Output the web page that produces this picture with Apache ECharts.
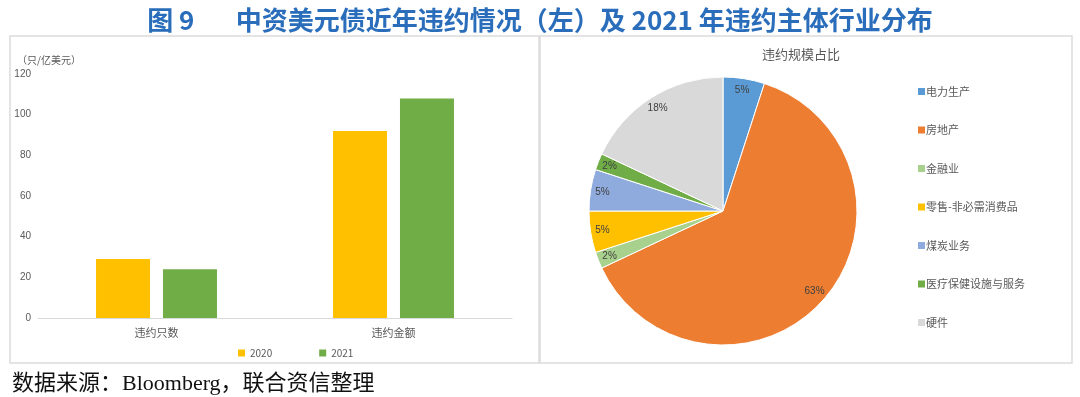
<!DOCTYPE html>
<html>
<head>
<meta charset="utf-8">
<script src="https://cdn.jsdelivr.net/npm/echarts@6/dist/echarts.min.js"></script>
<style>
  html, body {margin: 0; padding: 0; background: #fff;}
  #chart {width: 1080px; height: 397px;}
</style>
</head>
<body>
<div id="chart"></div>
<script>
const barCategories = ['违约只数', '违约金额'];
const barYears = ['2020', '2021'];
const values2020 = [29, 92];
const values2021 = [24, 108];
const yTicks = [0, 20, 40, 60, 80, 100, 120];

const sectors = ['电力生产', '房地产', '金融业', '零售-非必需消费品', '煤炭业务', '医疗保健设施与服务', '硬件'];
const sectorShares = [5, 63, 2, 5, 5, 2, 18];
const sectorColors = ['#5B9BD5', '#ED7D31', '#A9D18E', '#FFC000', '#8FAADC', '#70AD47', '#D9D9D9'];

const grey = '#595959';
const cjk = '"Noto Sans CJK SC", sans-serif';

const chart = echarts.init(document.getElementById('chart'));

const pieData = sectors.map((name, i) => ({
  name,
  value: sectorShares[i],
  itemStyle: {color: sectorColors[i]}
}));

chart.setOption({
  animation: false,
  title: [
    {
      text: '图 9       中资美元债近年违约情况（左）及 2021 年违约主体行业分布',
      left: 'center',
      top: 2,
      textStyle: {color: '#2A6EBB', fontSize: 26, fontWeight: 'bold', fontFamily: cjk}
    },
    {
      text: '（只/亿美元）',
      left: 12,
      top: 50,
      textStyle: {color: grey, fontSize: 10, fontWeight: 'normal', fontFamily: cjk}
    },
    {
      text: '违约规模占比',
      left: 796,
      textAlign: 'center',
      top: 43,
      textStyle: {color: grey, fontSize: 13, fontWeight: 'normal', fontFamily: cjk}
    },
    {
      text: '数据来源：Bloomberg，联合资信整理',
      left: 7,
      top: 368,
      textStyle: {color: '#111', fontSize: 22, fontWeight: 'normal', fontFamily: '"Liberation Serif", "Noto Sans CJK SC", serif'}
    }
  ],
  graphic: [
    {type: 'rect', shape: {x: 10, y: 36, width: 529, height: 327}, style: {fill: 'none', stroke: '#DCDCDC', lineWidth: 1.5}, z: -1},
    {type: 'rect', shape: {x: 540, y: 36, width: 532, height: 327}, style: {fill: 'none', stroke: '#DCDCDC', lineWidth: 1.5}, z: -1}
  ],
  legend: [
    {
      data: barYears,
      left: 233,
      top: 343,
      itemWidth: 7,
      itemHeight: 7,
      itemGap: 47,
      icon: 'rect',
      textStyle: {color: grey, fontSize: 10, fontFamily: cjk}
    },
    {
      data: sectors,
      orient: 'vertical',
      left: 913,
      top: 81,
      itemWidth: 7,
      itemHeight: 7,
      itemGap: 27.5,
      itemStyle: {borderWidth: 0},
      icon: 'rect',
      textStyle: {color: grey, fontSize: 11, fontFamily: cjk, padding: [0, 0, 0, -4]}
    }
  ],
  grid: {left: 38, right: 568, top: 74, bottom: 79},
  xAxis: {
    type: 'category',
    data: barCategories,
    axisLine: {lineStyle: {color: '#D9D9D9'}},
    axisTick: {show: false},
    axisLabel: {color: grey, fontSize: 11, fontFamily: cjk, margin: 9}
  },
  yAxis: {
    type: 'value',
    min: yTicks[0],
    max: yTicks[yTicks.length - 1],
    interval: 20,
    splitLine: {show: false},
    axisLine: {show: false},
    axisTick: {show: false},
    axisLabel: {color: grey, fontSize: 10, margin: 7}
  },
  series: [
    {
      name: barYears[0],
      type: 'bar',
      data: values2020,
      barWidth: 54,
      barGap: '24%',
      itemStyle: {color: '#FFC000'}
    },
    {
      name: barYears[1],
      type: 'bar',
      data: values2021,
      barWidth: 54,
      itemStyle: {color: '#70AD47'}
    },
    {
      name: '违约规模占比',
      type: 'pie',
      center: [723, 211],
      radius: 134,
      startAngle: 90,
      clockwise: true,
      data: pieData,
      label: {show: false},
      labelLine: {show: false},
      itemStyle: {borderColor: '#fff', borderWidth: 1}
    },
    {
      // transparent ring only used to place the percentage labels near the rim
      name: '标签',
      type: 'pie',
      center: [723, 211],
      radius: [104, 134],
      startAngle: 90,
      clockwise: true,
      silent: true,
      legendHoverLink: false,
      data: sectors.map((name, i) => ({name, value: sectorShares[i]})),
      itemStyle: {color: 'rgba(0,0,0,0)', borderWidth: 0},
      label: {
        show: true,
        position: 'inside',
        formatter: (p) => Math.round(p.percent) + '%',
        color: '#404040',
        fontSize: 10
      },
      labelLine: {show: false}
    }
  ]
});
</script>
</body>
</html>
